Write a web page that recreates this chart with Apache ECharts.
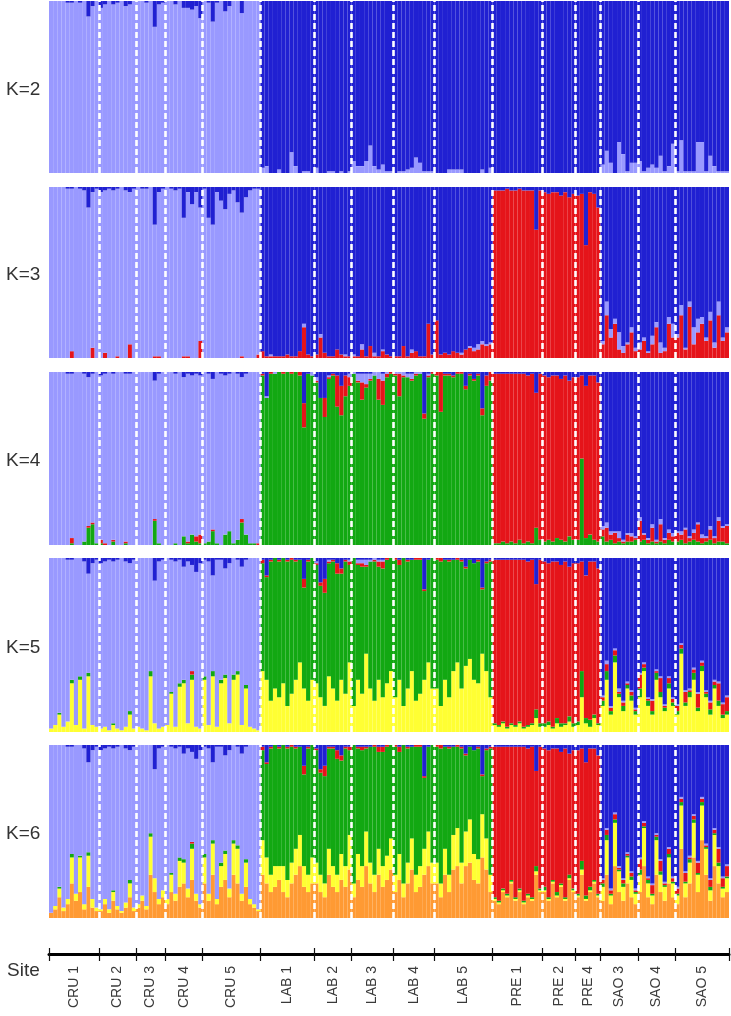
<!DOCTYPE html>
<html>
<head>
<meta charset="utf-8">
<script src="https://cdn.jsdelivr.net/npm/echarts@6/dist/echarts.min.js"></script>
<style>
  html, body { margin: 0; padding: 0; background: #fff; }
  #chart { width: 731px; height: 1016px; }
</style>
</head>
<body>
<div id="chart"></div>
<script>
// "_" marks the dominant cluster of an individual: it takes what is left of 100 %
const _ = null;

const siteNames = ['CRU 1', 'CRU 2', 'CRU 3', 'CRU 4', 'CRU 5', 'LAB 1', 'LAB 2', 'LAB 3',
  'LAB 4', 'LAB 5', 'PRE 1', 'PRE 2', 'PRE 4', 'SAO 3', 'SAO 4', 'SAO 5'];
const siteSizes = [12, 9, 7, 9, 14, 13, 9, 10, 10, 14, 12, 8, 6, 9, 9, 13];

// membership (%) per individual, one line per site
// K=2
const k2Light = [
  _,_,_,_,_,_,_,_,_,_,_,_,
  _,_,_,_,_,_,_,_,_,
  _,_,_,_,_,_,_,
  _,_,_,_,_,_,_,_,_,
  _,_,_,_,_,_,_,_,_,_,_,_,_,_,
  3,4,0,0,2,0,0,12,4,0,1,1,0,
  3,0,0,1,1,0,1,0,1,
  7,4,4,7,16,4,2,5,1,1,
  0,1,1,2,3,9,6,1,1,1,
  0,0,0,2,2,2,2,0,0,0,0,2,0,3,
  0,0,0,0,0,0,0,0,0,0,0,0,
  0,0,0,0,0,0,0,0,
  0,0,0,0,0,0,
  5,13,6,0,18,11,1,6,6,
  7,1,3,5,3,10,1,4,17,
  1,19,1,1,1,18,18,1,10,4,1,1,1
];
const k2Blue = [
  0,0,0,0,1,1,0,1,0,9,3,0,
  4,2,0,2,1,0,3,2,0,
  0,0,1,0,15,2,1,
  0,0,2,0,4,4,5,3,10,
  0,1,12,1,0,6,3,0,0,7,0,0,0,0,
  _,_,_,_,_,_,_,_,_,_,_,_,_,
  _,_,_,_,_,_,_,_,_,
  _,_,_,_,_,_,_,_,_,_,
  _,_,_,_,_,_,_,_,_,_,
  _,_,_,_,_,_,_,_,_,_,_,_,_,_,
  _,_,_,_,_,_,_,_,_,_,_,_,
  _,_,_,_,_,_,_,_,
  _,_,_,_,_,_,
  _,_,_,_,_,_,_,_,_,
  _,_,_,_,_,_,_,_,_,
  _,_,_,_,_,_,_,_,_,_,_,_,_
];

// K=3
const k3Red = [
  0,0,0,0,0,4,0,0,0,0,6,0,
  0,3,0,0,1,0,0,8,0,
  0,0,0,0,1,1,0,
  0,0,0,0,1,1,0,0,10,
  0,0,0,0,0,0,0,0,0,1,0,0,0,2,
  4,1,1,1,1,1,2,1,1,4,18,2,1,
  2,12,3,1,1,5,2,1,1,
  1,1,5,1,7,1,1,4,2,1,
  1,1,7,1,3,4,1,1,20,2,
  22,2,3,2,4,3,2,5,6,4,5,8,7,8,
  _,_,_,_,_,_,_,_,_,_,_,_,
  _,_,_,_,_,_,_,_,
  _,_,_,_,_,_,
  8,25,12,20,5,3,8,15,4,
  5,10,3,8,18,3,4,20,12,
  12,25,5,30,8,15,20,10,22,6,25,10,15
];
const k3Light = [
  _,_,_,_,_,_,_,_,_,_,_,_,
  _,_,_,_,_,_,_,_,_,
  _,_,_,_,_,_,_,
  _,_,_,_,_,_,_,_,_,
  _,_,_,_,_,_,_,_,_,_,_,_,_,_,
  0,0,1,0,0,0,0,0,0,0,2,0,0,
  0,2,0,0,0,0,0,1,0,
  1,0,3,0,0,2,0,1,0,0,
  0,0,0,0,2,0,0,0,0,0,
  0,0,0,0,0,0,1,0,1,2,3,2,1,1,
  0,0,0,0,0,0,0,0,0,0,0,0,
  0,0,0,0,0,0,0,0,
  0,0,0,0,0,0,
  2,8,5,3,10,4,1,3,2,
  4,2,1,5,3,6,2,4,8,
  2,6,1,3,10,8,4,2,5,3,8,2,3
];
const k3Blue = [
  0,0,0,0,1,1,0,1,2,12,3,1,
  3,2,1,2,1,0,2,3,1,
  0,1,1,0,22,3,1,
  0,1,2,1,18,3,10,3,12,
  1,18,22,3,8,13,4,2,9,15,6,2,1,1,
  _,_,_,_,_,_,_,_,_,_,_,_,_,
  _,_,_,_,_,_,_,_,_,
  _,_,_,_,_,_,_,_,_,_,
  _,_,_,_,_,_,_,_,_,_,
  _,_,_,_,_,_,_,_,_,_,_,_,_,_,
  2,2,2,1,2,2,1,2,2,2,25,2,
  3,4,3,3,5,3,6,4,
  5,4,34,3,4,12,
  _,_,_,_,_,_,_,_,_,
  _,_,_,_,_,_,_,_,_,
  _,_,_,_,_,_,_,_,_,_,_,_,_
];

// K=4
const k4Green = [
  0,0,0,0,0,1,0,0,2,10,12,1,
  1,0,0,2,0,0,1,0,0,
  0,0,0,0,14,1,0,
  0,0,1,0,5,1,6,2,1,
  1,2,8,1,0,6,8,1,3,13,6,1,1,0,
  _,_,_,_,_,_,_,_,_,_,_,_,_,
  _,_,_,_,_,_,_,_,_,
  _,_,_,_,_,_,_,_,_,_,
  _,_,_,_,_,_,_,_,_,_,
  _,_,_,_,_,_,_,_,_,_,_,_,_,_,
  1,1,2,1,2,1,3,1,2,1,10,3,
  2,3,2,4,3,2,5,3,
  3,50,4,6,3,2,
  5,2,3,1,2,1,2,2,3,
  2,3,1,2,1,2,1,3,2,
  2,3,1,2,3,2,1,2,3,1,2,2,1
];
const k4Red = [
  0,0,0,0,0,3,0,0,0,1,1,0,
  2,1,0,1,0,0,1,0,0,
  0,0,0,0,1,0,0,
  0,0,0,0,0,1,0,3,5,
  0,0,1,0,0,0,0,0,0,2,0,0,0,1,
  1,0,1,0,0,1,0,1,0,2,14,0,0,
  1,0,11,1,1,18,17,12,5,
  0,1,10,2,1,0,12,14,2,1,
  1,13,1,0,1,1,0,3,1,1,
  2,23,1,1,1,1,1,2,1,1,1,4,6,5,
  _,_,_,_,_,_,_,_,_,_,_,_,
  _,_,_,_,_,_,_,_,
  _,_,_,_,_,_,
  4,8,3,6,2,1,4,3,1,
  12,3,2,8,1,10,2,4,3,
  5,3,8,2,4,10,3,2,6,3,12,8,10
];
const k4Light = [
  _,_,_,_,_,_,_,_,_,_,_,_,
  _,_,_,_,_,_,_,_,_,
  _,_,_,_,_,_,_,
  _,_,_,_,_,_,_,_,_,
  _,_,_,_,_,_,_,_,_,_,_,_,_,_,
  0,1,0,1,0,0,0,0,0,0,0,0,2,
  2,0,0,1,0,0,0,0,2,
  1,4,5,6,3,2,4,4,1,0,
  1,1,2,2,3,1,1,0,1,0,
  0,0,0,0,0,0,0,0,0,0,0,0,0,0,
  0,0,0,0,0,0,0,0,0,0,0,0,
  0,0,0,0,0,0,0,0,
  0,0,0,0,0,0,
  2,3,2,1,4,1,1,2,1,
  2,1,1,2,1,3,1,2,2,
  1,2,1,1,2,1,2,1,2,1,2,1,1
];
const k4Blue = [
  0,0,0,0,1,1,0,0,1,3,1,0,
  2,1,0,1,0,0,1,1,0,
  0,0,0,0,5,1,0,
  0,0,1,0,3,1,2,1,2,
  0,1,4,0,1,2,1,0,1,3,1,0,0,0,
  1,14,0,0,0,0,0,0,0,0,18,1,0,
  3,15,15,2,1,2,8,2,1,
  0,1,1,1,1,0,0,1,0,0,
  0,0,0,1,1,0,0,24,1,0,
  0,0,1,1,2,0,0,8,1,4,1,21,2,0,
  1,1,1,1,1,1,1,1,2,1,12,1,
  2,3,2,2,4,2,5,3,
  3,2,8,2,2,6,
  _,_,_,_,_,_,_,_,_,
  _,_,_,_,_,_,_,_,_,
  _,_,_,_,_,_,_,_,_,_,_,_,_
];

// K=5
const k5Yellow = [
  2,4,10,3,6,28,4,30,2,32,4,3,
  2,3,1,4,2,1,3,10,2,
  3,2,1,32,5,2,3,
  4,22,3,26,28,5,30,3,2,
  30,4,32,3,28,31,5,30,33,4,25,3,2,1,
  35,30,18,25,20,28,15,22,30,40,25,18,30,
  28,20,15,32,25,18,30,22,40,
  15,30,22,45,25,18,30,20,28,35,
  20,30,15,25,35,18,22,30,40,25,
  25,15,30,20,35,40,25,38,42,30,28,45,35,20,
  4,3,5,2,4,3,5,2,3,4,8,3,
  3,4,2,5,3,4,6,3,
  4,20,5,3,8,4,
  15,30,10,40,20,12,25,18,10,
  20,35,15,10,30,20,12,25,15,
  10,45,15,20,30,12,35,20,10,25,15,8,10
];
const k5Green = [
  0,0,1,0,0,2,0,2,0,2,0,0,
  0,0,0,1,0,0,0,2,0,
  0,0,0,3,0,0,0,
  0,1,0,2,2,0,3,0,0,
  2,0,3,0,2,2,0,3,2,0,2,0,0,0,
  _,_,_,_,_,_,_,_,_,_,_,_,_,
  _,_,_,_,_,_,_,_,_,
  _,_,_,_,_,_,_,_,_,_,
  _,_,_,_,_,_,_,_,_,_,
  _,_,_,_,_,_,_,_,_,_,_,_,_,_,
  1,1,1,1,1,1,1,1,1,1,5,2,
  2,2,1,3,2,1,3,2,
  2,15,3,4,2,1,
  3,5,2,4,2,3,2,3,2,
  5,2,3,2,4,3,2,3,2,
  2,3,2,3,4,2,3,2,3,2,3,2,2
];
const k5Red = [
  0,0,0,0,0,0,0,0,0,0,0,0,
  0,0,0,0,0,0,0,0,0,
  0,0,0,0,0,0,0,
  0,0,0,0,0,0,2,0,0,
  0,0,0,0,0,0,0,0,0,0,0,0,0,0,
  2,1,1,0,1,0,1,1,1,0,5,1,0,
  1,2,8,1,1,6,3,1,2,
  0,1,2,1,0,1,3,4,1,0,
  1,3,0,1,0,1,1,1,0,0,
  1,2,0,1,0,1,1,1,0,0,1,1,1,1,
  _,_,_,_,_,_,_,_,_,_,_,_,
  _,_,_,_,_,_,_,_,
  _,_,_,_,_,_,
  2,4,2,3,1,2,1,2,1,
  8,2,1,6,1,8,1,3,2,
  3,2,6,1,2,8,2,1,4,2,10,6,8
];
const k5Light = [
  _,_,_,_,_,_,_,_,_,_,_,_,
  _,_,_,_,_,_,_,_,_,
  _,_,_,_,_,_,_,
  _,_,_,_,_,_,_,_,_,
  _,_,_,_,_,_,_,_,_,_,_,_,_,_,
  0,0,0,0,0,0,0,0,0,0,0,0,0,
  1,0,0,1,0,0,0,0,1,
  0,2,2,3,1,1,1,1,0,0,
  0,0,0,0,0,0,0,0,0,0,
  0,0,0,0,0,0,0,0,0,0,0,0,0,0,
  0,0,0,0,0,0,0,0,0,0,0,0,
  0,0,0,0,0,0,0,0,
  0,0,0,0,0,0,
  1,2,1,1,2,1,1,1,1,
  1,1,1,1,1,1,1,1,1,
  1,1,1,1,1,1,1,1,1,1,1,1,1
];
const k5Blue = [
  0,0,0,0,1,1,0,0,2,9,3,1,
  3,2,1,2,1,0,2,3,1,
  0,0,0,0,13,2,1,
  0,1,2,1,5,2,4,8,3,
  1,2,10,1,1,6,3,0,1,5,1,0,0,0,
  1,10,1,0,1,0,1,0,1,1,12,1,0,
  2,14,12,1,1,3,6,1,1,
  0,1,1,1,1,0,1,1,0,0,
  0,1,0,1,1,0,0,18,1,0,
  0,0,1,1,1,0,1,5,1,3,1,17,2,1,
  1,1,1,1,1,1,1,1,2,1,15,1,
  2,3,2,2,4,2,5,3,
  3,2,10,2,2,6,
  _,_,_,_,_,_,_,_,_,
  _,_,_,_,_,_,_,_,_,
  _,_,_,_,_,_,_,_,_,_,_,_,_
];

// K=6
const k6Orange = [
  3,5,12,4,8,20,10,15,5,18,6,4,
  4,8,3,10,5,3,6,12,4,
  6,10,5,25,15,8,12,
  8,15,10,18,20,12,22,10,6,
  20,10,25,8,18,22,12,25,20,10,18,8,6,4,
  25,20,15,18,22,15,12,20,25,30,18,15,20,
  20,15,12,25,18,15,22,18,28,
  12,22,18,30,20,15,25,18,22,28,
  15,22,12,20,28,15,18,25,30,20,
  20,12,25,15,28,30,20,30,32,22,20,35,28,15,
  10,8,15,12,20,10,15,8,12,10,25,15,
  15,10,20,12,18,10,22,15,
  12,25,10,15,20,12,
  10,25,8,30,15,10,20,12,8,
  15,30,12,8,25,15,10,20,12,
  8,40,12,20,35,15,45,25,10,30,20,12,15
];
const k6Yellow = [
  0,2,5,2,3,15,4,20,3,18,5,2,
  1,3,2,5,2,1,3,8,2,
  2,3,2,22,8,3,4,
  3,10,4,15,12,5,18,4,2,
  15,4,18,3,12,15,5,18,20,4,14,3,2,1,
  20,15,10,12,8,15,10,12,15,18,12,10,15,
  12,10,8,15,12,10,15,12,20,
  8,15,12,20,12,10,15,12,14,18,
  10,15,8,12,18,10,12,15,20,12,
  12,8,15,10,20,22,12,20,25,15,14,25,18,10,
  1,1,1,1,1,1,1,1,1,1,2,1,
  1,1,1,1,1,1,1,1,
  1,3,1,1,1,1,
  8,20,5,25,12,8,15,10,6,
  10,22,8,5,20,10,8,15,8,
  5,25,8,12,20,10,20,15,6,18,10,5,8
];
const k6Green = [
  0,0,1,0,0,2,0,1,0,2,0,0,
  0,0,0,1,0,0,0,2,0,
  0,0,0,2,0,0,0,
  0,1,0,2,2,0,3,0,0,
  2,0,2,0,2,2,0,2,2,0,2,0,0,0,
  _,_,_,_,_,_,_,_,_,_,_,_,_,
  _,_,_,_,_,_,_,_,_,
  _,_,_,_,_,_,_,_,_,_,
  _,_,_,_,_,_,_,_,_,_,
  _,_,_,_,_,_,_,_,_,_,_,_,_,_,
  1,1,1,1,1,1,1,1,1,1,3,1,
  2,1,1,2,1,1,2,1,
  1,5,2,2,1,1,
  2,3,1,2,1,2,1,2,1,
  3,1,2,1,2,2,1,2,1,
  1,2,1,2,2,1,2,1,2,1,2,1,1
];
const k6Red = [
  0,0,0,0,0,0,0,0,0,0,0,0,
  0,0,0,0,0,0,0,0,0,
  0,0,0,0,0,0,0,
  0,0,0,0,0,0,1,0,0,
  0,0,0,0,0,0,0,0,0,0,0,0,0,0,
  2,1,1,0,1,0,1,1,1,0,5,1,0,
  1,2,6,1,1,5,3,1,2,
  0,1,2,1,0,1,3,3,1,0,
  1,3,0,1,0,1,1,1,0,0,
  1,2,0,1,0,1,1,1,0,0,1,1,1,1,
  _,_,_,_,_,_,_,_,_,_,_,_,
  _,_,_,_,_,_,_,_,
  _,_,_,_,_,_,
  2,3,2,3,1,2,1,2,1,
  6,2,1,5,1,6,1,3,2,
  3,2,5,1,2,6,2,1,4,2,8,5,6
];
const k6Light = [
  _,_,_,_,_,_,_,_,_,_,_,_,
  _,_,_,_,_,_,_,_,_,
  _,_,_,_,_,_,_,
  _,_,_,_,_,_,_,_,_,
  _,_,_,_,_,_,_,_,_,_,_,_,_,_,
  0,0,0,0,0,0,0,0,0,0,0,0,0,
  0,0,0,0,0,0,0,0,0,
  0,0,0,0,0,0,0,0,0,0,
  0,0,0,0,0,0,0,0,0,0,
  0,0,0,0,0,0,0,0,0,0,0,0,0,0,
  0,0,0,0,0,0,0,0,0,0,0,0,
  0,0,0,0,0,0,0,0,
  0,0,0,0,0,0,
  1,1,1,1,1,1,1,1,1,
  1,1,1,1,1,1,1,1,1,
  1,1,1,1,1,1,1,1,1,1,1,1,1
];
const k6Blue = [
  0,0,0,0,1,1,0,0,2,10,3,1,
  3,2,1,2,1,0,2,3,1,
  0,0,0,0,14,2,1,
  0,1,2,1,5,2,4,8,3,
  1,2,10,1,1,6,3,0,1,5,1,0,0,0,
  1,10,1,0,1,0,1,0,1,1,12,1,0,
  2,14,12,1,1,3,6,1,1,
  0,1,1,1,1,0,1,1,0,0,
  0,1,0,1,1,0,0,18,1,0,
  0,0,1,1,1,0,1,5,1,3,1,17,2,1,
  1,1,1,1,1,1,1,1,2,1,15,1,
  2,3,2,2,4,2,5,3,
  3,2,10,2,2,6,
  _,_,_,_,_,_,_,_,_,
  _,_,_,_,_,_,_,_,_,
  _,_,_,_,_,_,_,_,_,_,_,_,_
];

const colors = {
  light: '#9999ff', blue: '#2020d2', red: '#e5141a',
  green: '#12a812', yellow: '#ffff33', orange: '#ff9a33'
};

// bottom -> top stacking order in each panel
const panels = [
  { label: 'K=2', layers: [['light', k2Light], ['blue', k2Blue]] },
  { label: 'K=3', layers: [['red', k3Red], ['light', k3Light], ['blue', k3Blue]] },
  { label: 'K=4', layers: [['green', k4Green], ['red', k4Red], ['light', k4Light], ['blue', k4Blue]] },
  { label: 'K=5', layers: [['yellow', k5Yellow], ['green', k5Green], ['red', k5Red], ['light', k5Light], ['blue', k5Blue]] },
  { label: 'K=6', layers: [['orange', k6Orange], ['yellow', k6Yellow], ['green', k6Green], ['red', k6Red], ['light', k6Light], ['blue', k6Blue]] }
];

const N = siteSizes.reduce((a, b) => a + b, 0);
const bounds = [0];
siteSizes.forEach(s => bounds.push(bounds[bounds.length - 1] + s));
const centers = siteSizes.map((s, i) => bounds[i] + s / 2);
const individuals = [];
for (let i = 1; i <= N; i++) individuals.push(String(i));

// fill in the dominant cluster so each individual sums to 100
function completeRows(layers) {
  layers.forEach(([name, arr]) => {
    if (arr.length !== N) throw new Error(name + ' has ' + arr.length + ' values, expected ' + N);
  });
  const out = layers.map(([name, arr]) => [name, arr.slice()]);
  for (let i = 0; i < N; i++) {
    let sum = 0, rest = null;
    out.forEach(([name, arr]) => {
      if (arr[i] === null) rest = arr; else sum += arr[i];
    });
    if (rest) rest[i] = Math.max(0, 100 - sum);
  }
  return out;
}

const plotLeft = 49, plotWidth = 680;
const panelTops = [1, 187, 372, 558, 745];
const panelHeights = [172, 171, 173, 174, 173];
const font = 'Liberation Sans, Arial, Helvetica, sans-serif';

const grid = [], xAxis = [], yAxis = [], series = [], title = [];

panels.forEach((p, pi) => {
  grid.push({ left: plotLeft, width: plotWidth, top: panelTops[pi], height: panelHeights[pi] });
  xAxis.push({
    type: 'category', gridIndex: pi, data: individuals, boundaryGap: true,
    axisLine: { show: false }, axisTick: { show: false }, axisLabel: { show: false }
  });
  xAxis.push({ type: 'value', gridIndex: pi, min: 0, max: N, show: false });
  yAxis.push({ type: 'value', gridIndex: pi, min: 0, max: 100, show: false });

  completeRows(p.layers).forEach(([name, values]) => {
    series.push({
      type: 'bar', name: name, stack: 'k' + pi,
      xAxisIndex: pi * 2, yAxisIndex: pi,
      data: values, barCategoryGap: '0%',
      itemStyle: { color: colors[name] },
      silent: true, animation: false
    });
  });

  // white dashed separators between sites
  series.push({
    type: 'line', xAxisIndex: pi * 2 + 1, yAxisIndex: pi, data: [], z: 10,
    silent: true, animation: false,
    markLine: {
      silent: true, animation: false, symbol: ['none', 'none'],
      label: { show: false },
      lineStyle: { color: '#ffffff', type: [6, 3], width: 2.6, opacity: 1 },
      data: bounds.slice(1, -1).map(v => ({ xAxis: v }))
    }
  });

  title.push({
    text: p.label, left: 1, top: panelTops[pi] + panelHeights[pi] / 2 - 12,
    textStyle: { fontSize: 19, fontWeight: 'normal', color: '#333', fontFamily: font }
  });
});

// site axis
const siteGrid = panels.length;
grid.push({ left: plotLeft, width: plotWidth, top: 944, height: 10 });
yAxis.push({ type: 'value', gridIndex: siteGrid, show: false });
xAxis.push({
  type: 'value', gridIndex: siteGrid, min: 0, max: N, position: 'bottom',
  axisLine: { show: true, lineStyle: { color: '#000', width: 3 } },
  splitLine: { show: false },
  axisTick: { show: true, customValues: bounds, length: 7, lineStyle: { color: '#111', width: 1.2 } },
  axisLabel: {
    show: true, customValues: centers, rotate: 90, margin: 12,
    fontSize: 14, color: '#3a3a3a', fontFamily: font,
    formatter: v => siteNames[centers.findIndex(c => Math.abs(c - v) < 1e-6)]
  }
});
xAxis.push({
  type: 'value', gridIndex: siteGrid, min: 0, max: N, position: 'bottom',
  axisLine: { show: false }, splitLine: { show: false }, axisLabel: { show: false },
  axisTick: { show: true, inside: true, customValues: bounds, length: 6, lineStyle: { color: '#111', width: 1.2 } }
});
series.push({ type: 'line', xAxisIndex: xAxis.length - 2, yAxisIndex: siteGrid, data: [], silent: true });

title.push({
  text: 'Site', left: 2, top: 956,
  textStyle: { fontSize: 19, fontWeight: 'normal', color: '#333', fontFamily: font }
});

const chart = echarts.init(document.getElementById('chart'), null, { renderer: 'canvas' });
chart.setOption({
  animation: false,
  backgroundColor: '#ffffff',
  title: title,
  grid: grid,
  xAxis: xAxis,
  yAxis: yAxis,
  series: series
});
</script>
</body>
</html>
